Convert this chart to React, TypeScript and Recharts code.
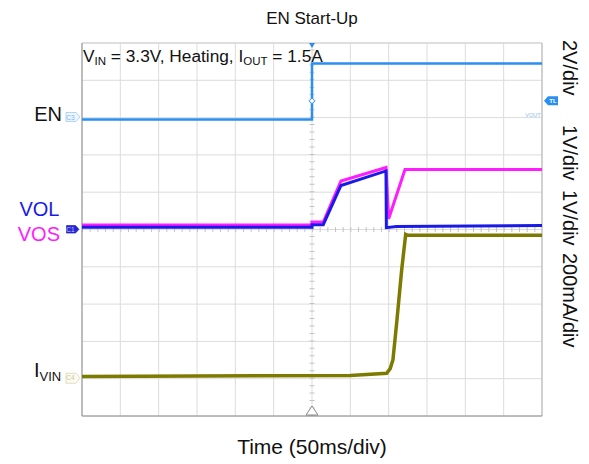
import React from 'react';
import {
  ComposedChart,
  Line,
  XAxis,
  YAxis,
  CartesianGrid,
  ReferenceLine,
  ReferenceDot,
} from 'recharts';

const FONT = '"Liberation Sans", Arial, Helvetica, sans-serif';

// ---- axes (oscilloscope screen: 12 x 10 divisions, 50 ms/div, trigger at centre)
const TIME_TICKS = [-300, -250, -200, -150, -100, -50, 0, 50, 100, 150, 200, 250, 300];
const DIV_TICKS = [0, 1, 2, 3, 4, 5, 6, 7, 8, 9, 10];

// channel settings: ground position (divisions below top) and units per division
const EN_GND_DIV = 2.05;
const EN_PER_DIV = 2; // V
const VO_GND_DIV = 5;
const VO_PER_DIV = 1; // V
const IV_GND_DIV = 8.98;
const IV_PER_DIV = 0.2; // A
const EN_TRIG = 1.0; // trigger level, V

// ---- EN (V)
const EN_T = [-300, 0, 0, 300];
const EN_V = [0, 0, 3.0, 3.0];

// ---- VOS (V)
const VOS_T = [-300, 0, 0, 14.7, 37.8, 96.5, 100, 121.3, 300];
const VOS_V = [0.12, 0.12, 0.2, 0.2, 1.3, 1.66, 0.29, 1.61, 1.61];

// ---- VOL (V)
const VOL_T = [-300, 0, 0, 14.7, 37.8, 96.5, 97, 110, 300];
const VOL_V = [0.06, 0.06, 0.13, 0.13, 1.18, 1.57, 0.05, 0.08, 0.11];

// ---- IVIN (A)
const IV_T = [-300, 50, 97.4, 102, 105.6, 110.8, 117, 122.2, 125, 300];
const IV_V = [0.008, 0.013, 0.025, 0.05, 0.098, 0.31, 0.58, 0.77, 0.765, 0.765];

const zip = (t: number[], v: number[]) => t.map((x, i) => ({ t: x, v: v[i] }));
const enData = zip(EN_T, EN_V);
const vosData = zip(VOS_T, VOS_V);
const volData = zip(VOL_T, VOL_V);
const ivData = zip(IV_T, IV_V);

const dom = (gnd: number, per: number): [number, number] => [-(10 - gnd) * per, gnd * per];

const C_EN = '#2a8ff0';
const C_VOL = '#1a1ae8';
const C_VOS = '#ff1cff';
const C_IV = '#7d7a00';

const ENTag = (p: any) => {
  const { cx, cy } = p;
  return (
    <g>
      <text x={cx - 20} y={cy + 2} textAnchor="end" fontFamily={FONT} fontSize={20} fill="#111">EN</text>
      <path d={`M${cx - 16},${cy - 7} h10 l4,4.5 l-4,4.5 h-10 z`} fill="#eef6ff" stroke="#9cc9f3" strokeWidth={0.8} />
      <text x={cx - 11.5} y={cy + 0.5} textAnchor="middle" fontFamily={FONT} fontSize={6.5} fill="#7ab4ee">C3</text>
    </g>
  );
};

const VOTag = (p: any) => {
  const { cx, cy } = p;
  return (
    <g>
      <text x={cx - 22.5} y={cy - 14} textAnchor="end" fontFamily={FONT} fontSize={20} fill={C_VOL}>VOL</text>
      <text x={cx - 22} y={cy + 11} textAnchor="end" fontFamily={FONT} fontSize={20} fill={C_VOS}>VOS</text>
      <path d={`M${cx - 15.5},${cy - 4} h9 l3.5,3.8 l-3.5,3.8 h-9 z`} fill="#2626d8" stroke="#1a1ab0" strokeWidth={0.6} />
      <text x={cx - 11.5} y={cy + 2.3} textAnchor="middle" fontFamily={FONT} fontSize={6.5} fill="#c8c8ff">C1</text>
    </g>
  );
};

const IVTag = (p: any) => {
  const { cx, cy } = p;
  return (
    <g>
      <text x={cx - 48} y={cy - 1} fontFamily={FONT} fontSize={20} fill="#111">
        I<tspan fontSize={13} dy={4}>VIN</tspan>
      </text>
      <path d={`M${cx - 16},${cy - 4.7} h10 l4,5 l-4,5 h-10 z`} fill="#fbfbf0" stroke="#d6d6b0" strokeWidth={0.8} />
      <text x={cx - 11.5} y={cy + 2.5} textAnchor="middle" fontFamily={FONT} fontSize={6.5} fill="#c9c99a">C4</text>
    </g>
  );
};

const TLTag = (p: any) => {
  const { cx, cy } = p;
  return (
    <g>
      <path d={`M${cx + 2},${cy} l4,-4.5 h10 v9 h-10 z`} fill={C_EN} />
      <text x={cx + 11} y={cy + 2.3} textAnchor="middle" fontFamily={FONT} fontSize={6} fontWeight="bold" fill="#fff">TL</text>
    </g>
  );
};

const VoutText = (p: any) => {
  const { cx, cy } = p;
  return (
    <text x={cx - 1.5} y={cy - 2} textAnchor="end" fontFamily={FONT} fontSize={5.5} fill="#8cc0f0">VOUT</text>
  );
};

const Diamond = (p: any) => {
  const { cx, cy } = p;
  return <path d={`M${cx},${cy - 3} l3,3 l-3,3 l-3,-3 z`} fill="#fff" stroke={C_EN} strokeWidth={1} />;
};

const TopTrig = (p: any) => {
  const { cx, cy } = p;
  return <path d={`M${cx - 3},${cy} h6 l-3,5 z`} fill={C_EN} />;
};

const BottomMark = (p: any) => {
  const { cx, cy } = p;
  return <path d={`M${cx - 6},${cy - 1} h12 l-6,-9 z`} fill="#fff" stroke="#888" strokeWidth={1} />;
};

export default function App() {
  return (
    <div style={{ position: 'absolute', left: 0, top: 0, width: 589, height: 464, background: '#fff' }}>
      <ComposedChart
        width={589}
        height={464}
        margin={{ top: 43, right: 47, bottom: 48, left: 82 }}
      >
        <XAxis
          xAxisId="x"
          dataKey="t"
          type="number"
          domain={[-300, 300]}
          ticks={TIME_TICKS}
          allowDataOverflow
          hide
        />
        <YAxis yAxisId="grid" type="number" domain={[0, 10]} ticks={DIV_TICKS} allowDataOverflow hide />
        <YAxis yAxisId="en" type="number" domain={dom(EN_GND_DIV, EN_PER_DIV)} allowDataOverflow hide />
        <YAxis yAxisId="vo" type="number" domain={dom(VO_GND_DIV, VO_PER_DIV)} allowDataOverflow hide />
        <YAxis yAxisId="iv" type="number" domain={dom(IV_GND_DIV, IV_PER_DIV)} allowDataOverflow hide />

        <CartesianGrid xAxisId="x" yAxisId="grid" stroke="#dcdcdc" strokeWidth={1} />

        {/* centre minor ticks */}
        <ReferenceLine xAxisId="x" yAxisId="grid" x={0} stroke="#c4c4c4" strokeWidth={5} strokeDasharray="1 6.46" />
        <ReferenceLine xAxisId="x" yAxisId="grid" y={5} stroke="#c4c4c4" strokeWidth={5} strokeDasharray="1 6.667" />

        {/* border */}
        <ReferenceLine xAxisId="x" yAxisId="grid" y={10} stroke="#cfcfcf" />
        <ReferenceLine xAxisId="x" yAxisId="grid" x={300} stroke="#b4b4b4" />
        <ReferenceLine xAxisId="x" yAxisId="grid" x={-300} stroke="#8c8c8c" />
        <ReferenceLine xAxisId="x" yAxisId="grid" y={0} stroke="#8c8c8c" />

        <Line
          xAxisId="x"
          yAxisId="en"
          data={enData}
          dataKey="v"
          type="linear"
          stroke={C_EN}
          strokeWidth={2.5}
          dot={false}
          isAnimationActive={false}
        />
        <Line
          xAxisId="x"
          yAxisId="vo"
          data={vosData}
          dataKey="v"
          type="linear"
          stroke={C_VOS}
          strokeWidth={3}
          dot={false}
          isAnimationActive={false}
        />
        <Line
          xAxisId="x"
          yAxisId="vo"
          data={volData}
          dataKey="v"
          type="linear"
          stroke={C_VOL}
          strokeWidth={3}
          dot={false}
          isAnimationActive={false}
        />
        <Line
          xAxisId="x"
          yAxisId="iv"
          data={ivData}
          dataKey="v"
          type="linear"
          stroke={C_IV}
          strokeWidth={3.5}
          dot={false}
          isAnimationActive={false}
        />

        <ReferenceDot xAxisId="x" yAxisId="en" x={-300} y={0} ifOverflow="visible" shape={ENTag} />
        <ReferenceDot xAxisId="x" yAxisId="vo" x={-300} y={0} ifOverflow="visible" shape={VOTag} />
        <ReferenceDot xAxisId="x" yAxisId="iv" x={-300} y={0} ifOverflow="visible" shape={IVTag} />
        <ReferenceDot xAxisId="x" yAxisId="en" x={300} y={EN_TRIG} ifOverflow="visible" shape={TLTag} />
        <ReferenceDot xAxisId="x" yAxisId="en" x={300} y={0} ifOverflow="visible" shape={VoutText} />
        <ReferenceDot xAxisId="x" yAxisId="en" x={0} y={EN_TRIG} ifOverflow="visible" shape={Diamond} />
        <ReferenceDot xAxisId="x" yAxisId="grid" x={0} y={10} ifOverflow="visible" shape={TopTrig} />
        <ReferenceDot xAxisId="x" yAxisId="grid" x={0} y={0} ifOverflow="visible" shape={BottomMark} />
      </ComposedChart>

      <svg
        width={589}
        height={464}
        style={{ position: 'absolute', left: 0, top: 0, pointerEvents: 'none' }}
      >
        <text x={312} y={24} textAnchor="middle" fontFamily={FONT} fontSize={17} fill="#111">EN Start-Up</text>
        <text x={312} y={454} textAnchor="middle" fontFamily={FONT} fontSize={21} fill="#111">Time (50ms/div)</text>
        <text x={83} y={62} fontFamily={FONT} fontSize={17.3} fill="#111">
          V<tspan fontSize={11.5} dy={3}>IN</tspan>
          <tspan dy={-3}> = 3.3V, Heating, I</tspan>
          <tspan fontSize={11.5} dy={3}>OUT</tspan>
          <tspan dy={-3}> = 1.5A</tspan>
        </text>
        <text x={563} y={40} transform="rotate(90 563 40)" fontFamily={FONT} fontSize={20} fill="#111">2V/div</text>
        <text x={563} y={125} transform="rotate(90 563 125)" fontFamily={FONT} fontSize={20} fill="#111">1V/div</text>
        <text x={563} y={190} transform="rotate(90 563 190)" fontFamily={FONT} fontSize={20} fill="#111">1V/div</text>
        <text x={563} y={253} transform="rotate(90 563 253)" fontFamily={FONT} fontSize={20} fill="#111">200mA/div</text>
      </svg>
    </div>
  );
}
